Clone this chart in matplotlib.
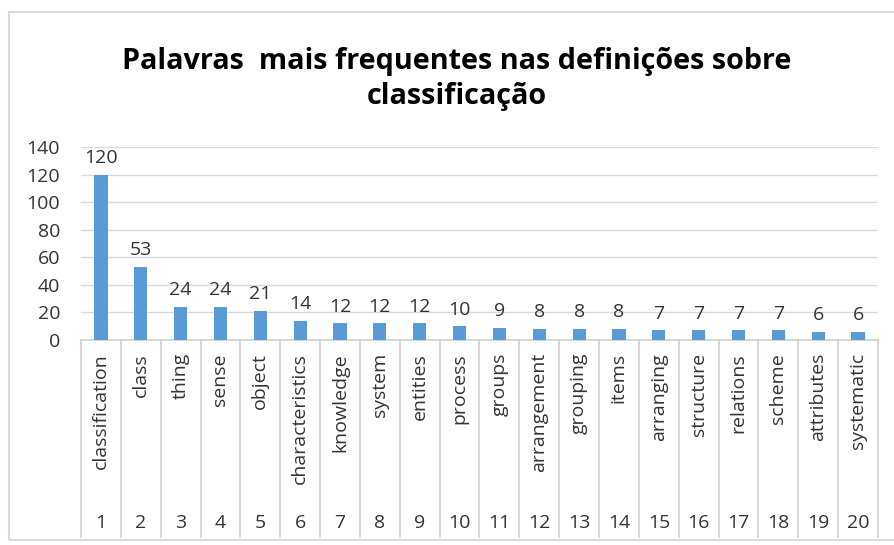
import matplotlib
matplotlib.use("Agg")
import matplotlib.pyplot as plt
import matplotlib.transforms as mtransforms
from matplotlib.patches import Rectangle

words = ["classification", "class", "thing", "sense", "object", "characteristics",
         "knowledge", "system", "entities", "process", "groups", "arrangement",
         "grouping", "items", "arranging", "structure", "relations", "scheme",
         "attributes", "systematic"]
ranks = [str(i) for i in range(1, 21)]
counts = [120, 53, 24, 24, 21, 14, 12, 12, 12, 10, 9, 8, 8, 8, 7, 7, 7, 7, 6, 6]
yticks = [0, 20, 40, 60, 80, 100, 120, 140]
title = "Palavras  mais frequentes nas definições sobre\nclassificação"

W, H = 895, 545
plt.rcParams['font.family'] = ['Open Sans', 'DejaVu Sans']
fig = plt.figure(figsize=(W / 100, H / 100), dpi=100)

def fx(px):
    return px / W

def fy(py):
    return 1 - py / H

FS = 14
ax_left, ax_right, ax_top, ax_bottom = 81, 878, 147, 340
ax = fig.add_axes([fx(ax_left), fy(ax_bottom), fx(ax_right - ax_left), (ax_bottom - ax_top) / H])

x = list(range(len(counts)))
bars = ax.bar(x, counts, width=0.33, color="#5b9bd5", zorder=3)
ax.set_xlim(-0.5, len(counts) - 0.5)
ax.set_ylim(0, 140)
ax.set_yticks(yticks)
ax.set_yticklabels([str(v) for v in yticks], fontsize=FS, color="#333333")
ax.tick_params(axis='y', length=0, pad=15)
ax.set_xticks([])
ax.grid(axis='y', color="#d9d9d9", linewidth=1, zorder=0)
for s in ["left", "right", "top"]:
    ax.spines[s].set_visible(False)
ax.spines["bottom"].set_color("#d0d0d0")
ax.spines["bottom"].set_linewidth(1.2)

for xi, v in zip(x, counts):
    ax.annotate(str(v), (xi, v), xytext=(0, 5.5), textcoords="offset points",
                ha="center", va="bottom", fontsize=FS, color="#333333")

trans = mtransforms.blended_transform_factory(ax.transData, fig.transFigure)
for i in range(len(counts) + 1):
    ax.plot([i - 0.5, i - 0.5], [fy(ax_bottom), fy(537)], transform=trans,
            color="#d0d0d0", linewidth=1.2, clip_on=False)
for xi, w, r in zip(x, words, ranks):
    ax.text(xi, fy(353), w, transform=trans, rotation=90, ha="center", va="top",
            fontsize=FS, color="#333333")
    ax.text(xi, fy(523), r, transform=trans, ha="center", va="center",
            fontsize=FS, color="#333333")

fig.text(fx(457), fy(79), title, ha="center", va="center", fontsize=20.7,
         fontweight="bold", linespacing=1.3, color="#000000")

fig.patches.append(Rectangle((fx(9), fy(540)), fx(W + 10 - 9), (540 - 12) / H,
                             transform=fig.transFigure, fill=False,
                             edgecolor="#d9d9d9", linewidth=1.5))

fig.savefig("out.png", dpi=100)
